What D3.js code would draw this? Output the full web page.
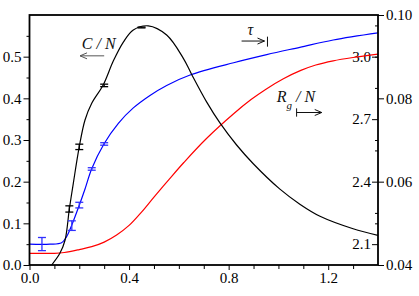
<!DOCTYPE html>
<html>
<head>
<meta charset="utf-8">
<script src="https://cdn.jsdelivr.net/npm/d3@7"></script>
<style>
body{margin:0;background:#fff;}
</style>
</head>
<body>
<svg id="graphique" width="419" height="296"></svg>
<script>
// C/N (left axis), black
var cnX = [0.089,0.122,0.143,0.16,0.176,0.2,0.223,0.25,0.296,0.337,0.377,0.417,0.477,0.551,0.618,0.651,0.712,0.765,0.832,0.899,1.006,1.086,1.167,1.3,1.4];
var cnY = [0,0.028,0.06,0.134,0.196,0.284,0.348,0.388,0.432,0.49,0.535,0.564,0.574,0.552,0.496,0.458,0.391,0.341,0.288,0.243,0.182,0.146,0.117,0.087,0.071];

// tau (inner right axis), blue
var tauX = [0,0.082,0.129,0.149,0.169,0.2,0.223,0.25,0.299,0.357,0.417,0.484,0.551,0.645,0.82,0.953,1.086,1.22,1.4];
var tauY = [2.1,2.1,2.107,2.136,2.189,2.287,2.365,2.462,2.581,2.68,2.754,2.814,2.862,2.912,2.971,3.01,3.045,3.08,3.114];

// Rg/N (outer right axis), red
var rgX = [0,0.1,0.14,0.2,0.25,0.3,0.35,0.4,0.45,0.5,0.56,0.62,0.71,0.82,0.89,0.95,1.02,1.09,1.15,1.22,1.3,1.4];
var rgY = [0.0428,0.0428,0.043,0.0437,0.0444,0.0455,0.0472,0.0495,0.0527,0.0563,0.0605,0.0646,0.0703,0.0763,0.0797,0.0822,0.0847,0.0867,0.088,0.089,0.0898,0.0906];

// error bars
var cnErrX = [0.16,0.2,0.3,0.45];
var cnErrLo = [0.127,0.277,0.428,0.569];
var cnErrHi = [0.142,0.29,0.434,0.571];
var tauErrX = [0.05,0.17,0.2,0.25,0.3];
var tauErrLo = [2.069,2.166,2.274,2.455,2.575];
var tauErrHi = [2.132,2.212,2.301,2.467,2.587];

// ticks
var xTicks = [0,0.4,0.8,1.2];
var xMinor = [0.1,0.2,0.3,0.5,0.6,0.7,0.9,1.0,1.1,1.3];
var leftTicks = [0,0.1,0.2,0.3,0.4,0.5];
var leftMinor = [0.05,0.15,0.25,0.35,0.45,0.55];
var tauTicks = [2.1,2.4,2.7,3.0];
var tauMinor = [2.25,2.55,2.85,3.15];
var rgTicks = [0.04,0.06,0.08,0.10];
var rgMinor = [0.05,0.07,0.09];

var svg = d3.select("#graphique");
var MARGINS = {top: 15, right: 41, bottom: 31, left: 29.5};
var WIDTH = 419, HEIGHT = 296;
var x0 = MARGINS.left, x1 = WIDTH - MARGINS.right;
var y0 = HEIGHT - MARGINS.bottom, y1 = MARGINS.top;

var xScale = d3.scaleLinear().domain([0,1.4]).range([x0,x1]);
var yLeft = d3.scaleLinear().domain([0,0.6]).range([y0,y1]);
var yTau = d3.scaleLinear().domain([2.0,3.2]).range([y0,y1]);
var yRg = d3.scaleLinear().domain([0.04,0.10]).range([y0,y1]);

svg.append("clipPath").attr("id","zone")
	.append("rect").attr("x",x0).attr("y",y1).attr("width",x1-x0).attr("height",y0-y1);

function serif(sel, size){
	return sel.attr("font-family","Liberation Serif")
		.style("font-family","'Liberation Serif'")
		.style("font-size", size+"px");
}

function drawAxis(axis, tx, ty){
	var g = svg.append("g")
		.attr("transform","translate("+tx+","+ty+")")
		.call(axis);
	g.select(".domain").remove();
	serif(g, 15);
	serif(g.selectAll("text").attr("fill","#000"), 15);
	g.selectAll("line").attr("stroke","#000");
	return g;
}

// bottom
drawAxis(d3.axisBottom(xScale).tickValues(xTicks).tickFormat(d3.format(".1f")).tickSize(5).tickPadding(2).tickSizeOuter(0), 0, y0);
drawAxis(d3.axisBottom(xScale).tickValues(xMinor).tickFormat("").tickSize(4).tickSizeOuter(0), 0, y0);
// left
drawAxis(d3.axisLeft(yLeft).tickValues(leftTicks).tickFormat(d3.format(".1f")).tickSize(6).tickPadding(2).tickSizeOuter(0), x0, 0);
drawAxis(d3.axisLeft(yLeft).tickValues(leftMinor).tickFormat("").tickSize(3).tickSizeOuter(0), x0, 0);
// right, tau (inside)
drawAxis(d3.axisLeft(yTau).tickValues(tauTicks).tickFormat(d3.format(".1f")).tickSize(6).tickPadding(1).tickSizeOuter(0), x1, 0);
drawAxis(d3.axisLeft(yTau).tickValues(tauMinor).tickFormat("").tickSize(3).tickSizeOuter(0), x1, 0);
// right, Rg/N (outside)
drawAxis(d3.axisRight(yRg).tickValues(rgTicks).tickFormat(d3.format(".2f")).tickSize(6).tickPadding(2).tickSizeOuter(0), x1, 0);
drawAxis(d3.axisLeft(yRg).tickValues(rgMinor).tickFormat("").tickSize(3).tickSizeOuter(0), x1, 0);

// courbes
function drawCurve(xs, ys, yScale, couleur){
	var pts = xs.map(function(d,i){ return [d, ys[i]]; });
	var line = d3.line()
		.x(function(d){ return xScale(d[0]); })
		.y(function(d){ return yScale(d[1]); })
		.curve(d3.curveCatmullRom.alpha(0.5));
	svg.append("path")
		.attr("d", line(pts))
		.attr("stroke", couleur)
		.attr("stroke-width", 1.2)
		.attr("fill","none")
		.attr("clip-path","url(#zone)");
}

drawCurve(rgX, rgY, yRg, "#ff0000");
drawCurve(tauX, tauY, yTau, "#0000ff");
drawCurve(cnX, cnY, yLeft, "#000000");

function drawErrors(xs, lo, hi, yScale, couleur){
	xs.forEach(function(d,i){
		var g = svg.append("g").attr("stroke",couleur).attr("stroke-width",1.3);
		var cx = xScale(d);
		g.append("line").attr("x1",cx).attr("x2",cx).attr("y1",yScale(lo[i])).attr("y2",yScale(hi[i]));
		[lo[i],hi[i]].forEach(function(v){
			g.append("line").attr("x1",cx-4).attr("x2",cx+4).attr("y1",yScale(v)).attr("y2",yScale(v));
		});
	});
}
drawErrors(tauErrX, tauErrLo, tauErrHi, yTau, "#3030ff");
drawErrors(cnErrX, cnErrLo, cnErrHi, yLeft, "#000");

// cadre
svg.append("rect")
	.attr("x",x0).attr("y",y1).attr("width",x1-x0).attr("height",y0-y1)
	.attr("fill","none").attr("stroke","#000").attr("stroke-width",1.8);

// legendes
function arrow(xa, xb, y, couleur){
	var dir = xb > xa ? 1 : -1;
	svg.append("line").attr("x1",xa).attr("x2",xb).attr("y1",y).attr("y2",y)
		.attr("stroke",couleur).attr("stroke-width",1);
	svg.append("path")
		.attr("d","M"+(xb-dir*7)+","+(y-3)+"L"+xb+","+y+"L"+(xb-dir*7)+","+(y+3))
		.attr("stroke",couleur).attr("fill","none").attr("stroke-width",1);
}
function label(xp, yp, txt){
	var t = svg.append("text").attr("x",xp).attr("y",yp)
		.attr("font-style","italic")
		.attr("fill","#111").text(txt);
	return serif(t, 16);
}

label(xScale(0.21), yLeft(0.518), "C / N");
arrow(xScale(0.3), xScale(0.203), yLeft(0.502), "#555");

label(xScale(0.876), yTau(3.102), "τ");
arrow(xScale(0.852), xScale(0.944), yTau(3.075), "#111");
svg.append("line").attr("x1",xScale(0.956)).attr("x2",xScale(0.956))
	.attr("y1",yTau(3.096)).attr("y2",yTau(3.048)).attr("stroke","#111").attr("stroke-width",1);

var rg = label(xScale(0.993), yRg(0.0791), "");
rg.append("tspan").text("R");
rg.append("tspan").style("font-size","11px").attr("dy",7).text("g");
rg.append("tspan").attr("dy",-7).text(" / N");
svg.append("line").attr("x1",xScale(1.073)).attr("x2",xScale(1.073))
	.attr("y1",yRg(0.0776)).attr("y2",yRg(0.0756)).attr("stroke","#111").attr("stroke-width",1);
arrow(xScale(1.073), xScale(1.174), yRg(0.0766), "#111");
</script>
</body>
</html>
